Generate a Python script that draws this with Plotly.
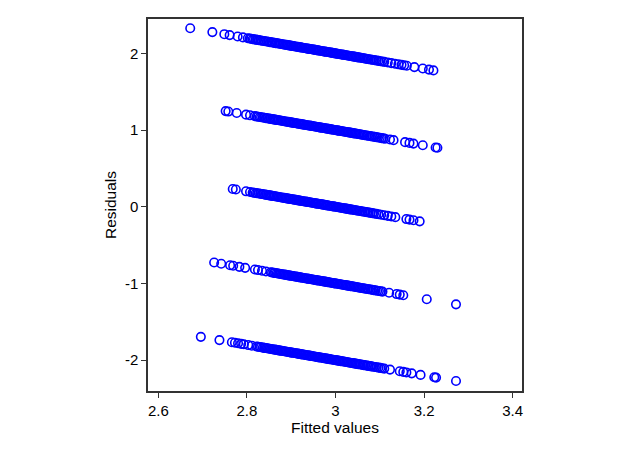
import plotly.graph_objects as go

# Observed response levels (ordinal outcome) and fitted values per level
levels = [5, 4, 3, 2, 1]

fitted_5 = [2.672, 2.722, 2.749, 2.761, 2.779, 2.791,
            2.802, 2.806, 2.809, 2.813, 2.816, 2.820, 2.823, 2.827, 2.831, 2.834,
            2.838, 2.841, 2.845, 2.848, 2.852, 2.855, 2.858, 2.862, 2.865, 2.868,
            2.871, 2.874, 2.877, 2.880, 2.883, 2.886, 2.889, 2.892, 2.895, 2.898,
            2.901, 2.904, 2.906, 2.909, 2.912, 2.915, 2.918, 2.921, 2.923, 2.926,
            2.929, 2.932, 2.935, 2.937, 2.940, 2.943, 2.946, 2.949, 2.951, 2.954,
            2.957, 2.960, 2.962, 2.965, 2.968, 2.971, 2.974, 2.976, 2.979, 2.982,
            2.985, 2.988, 2.990, 2.993, 2.996, 2.999, 3.002, 3.004, 3.007, 3.010,
            3.013, 3.016, 3.018, 3.021, 3.024, 3.027, 3.030, 3.033, 3.036, 3.039,
            3.042, 3.045, 3.048, 3.051, 3.054, 3.057, 3.060, 3.063, 3.066, 3.069,
            3.072, 3.075, 3.079, 3.082, 3.086, 3.089, 3.093, 3.097, 3.101, 3.105,
            3.110, 3.118, 3.126, 3.134, 3.142, 3.149, 3.155, 3.161,
            3.178, 3.197, 3.211, 3.221]

fitted_4 = [2.752, 2.758, 2.777, 2.798, 2.807,
            2.818, 2.822, 2.825, 2.829, 2.832, 2.836, 2.839, 2.843, 2.846, 2.850,
            2.853, 2.857, 2.860, 2.863, 2.866, 2.869, 2.872, 2.875, 2.878, 2.881,
            2.884, 2.887, 2.890, 2.893, 2.896, 2.899, 2.902, 2.905, 2.908, 2.911,
            2.913, 2.916, 2.919, 2.922, 2.925, 2.928, 2.930, 2.933, 2.936, 2.939,
            2.942, 2.945, 2.947, 2.950, 2.953, 2.956, 2.959, 2.962, 2.964, 2.967,
            2.970, 2.973, 2.976, 2.978, 2.981, 2.984, 2.987, 2.990, 2.992, 2.995,
            2.998, 3.001, 3.004, 3.006, 3.009, 3.012, 3.015, 3.018, 3.021, 3.024,
            3.027, 3.030, 3.033, 3.036, 3.039, 3.042, 3.045, 3.048, 3.051, 3.054,
            3.057, 3.060, 3.063, 3.066, 3.070, 3.073, 3.077, 3.080, 3.084, 3.088,
            3.092, 3.096, 3.100, 3.104, 3.108, 3.112,
            3.123, 3.131, 3.157, 3.167, 3.176, 3.197, 3.226, 3.230]

fitted_3 = [2.768, 2.775, 2.798, 2.807,
            2.813, 2.816, 2.820, 2.823, 2.827, 2.830, 2.834, 2.837, 2.841, 2.844,
            2.848, 2.851, 2.854, 2.857, 2.860, 2.863, 2.866, 2.869, 2.872, 2.875,
            2.878, 2.881, 2.884, 2.887, 2.890, 2.893, 2.896, 2.899, 2.902, 2.904,
            2.907, 2.910, 2.913, 2.916, 2.919, 2.921, 2.924, 2.927, 2.930, 2.933,
            2.936, 2.938, 2.941, 2.944, 2.947, 2.950, 2.953, 2.955, 2.958, 2.961,
            2.964, 2.967, 2.969, 2.972, 2.975, 2.978, 2.981, 2.983, 2.986, 2.989,
            2.992, 2.995, 2.997, 3.000, 3.003, 3.006, 3.009, 3.012, 3.015, 3.018,
            3.021, 3.024, 3.027, 3.030, 3.033, 3.036, 3.039, 3.042, 3.045, 3.048,
            3.051, 3.055, 3.058, 3.061, 3.065, 3.068, 3.072, 3.075, 3.079, 3.083,
            3.087, 3.092, 3.097, 3.103, 3.110, 3.118, 3.126, 3.135,
            3.160, 3.167, 3.176, 3.190]

fitted_2 = [2.726, 2.742, 2.762, 2.769, 2.783, 2.796, 2.818, 2.825, 2.834, 2.843,
            2.854, 2.857, 2.861, 2.864, 2.867, 2.870, 2.873, 2.876, 2.879, 2.882,
            2.885, 2.888, 2.891, 2.894, 2.897, 2.900, 2.903, 2.905, 2.908, 2.911,
            2.914, 2.917, 2.920, 2.922, 2.925, 2.928, 2.931, 2.934, 2.937, 2.939,
            2.942, 2.945, 2.948, 2.951, 2.954, 2.956, 2.959, 2.962, 2.965, 2.968,
            2.970, 2.973, 2.976, 2.979, 2.982, 2.984, 2.987, 2.990, 2.993, 2.996,
            2.998, 3.001, 3.004, 3.007, 3.010, 3.013, 3.016, 3.019, 3.022, 3.025,
            3.028, 3.031, 3.034, 3.037, 3.040, 3.043, 3.046, 3.049, 3.052, 3.055,
            3.058, 3.062, 3.065, 3.068, 3.072, 3.075, 3.079, 3.082, 3.086, 3.090,
            3.094, 3.098, 3.102, 3.106,
            3.121, 3.138, 3.145, 3.153, 3.206, 3.272]

fitted_1 = [2.696, 2.738, 2.766, 2.773, 2.780, 2.787, 2.793, 2.803, 2.811,
            2.822, 2.825, 2.829, 2.832, 2.836, 2.839, 2.842, 2.845, 2.848, 2.851,
            2.854, 2.857, 2.860, 2.863, 2.866, 2.869, 2.872, 2.875, 2.878, 2.881,
            2.884, 2.887, 2.890, 2.893, 2.896, 2.898, 2.901, 2.904, 2.907, 2.910,
            2.913, 2.915, 2.918, 2.921, 2.924, 2.927, 2.930, 2.932, 2.935, 2.938,
            2.941, 2.944, 2.946, 2.949, 2.952, 2.955, 2.958, 2.960, 2.963, 2.966,
            2.969, 2.972, 2.974, 2.977, 2.980, 2.983, 2.986, 2.988, 2.991, 2.994,
            2.997, 3.000, 3.003, 3.006, 3.009, 3.012, 3.015, 3.018, 3.021, 3.024,
            3.027, 3.030, 3.033, 3.036, 3.039, 3.042, 3.045, 3.048, 3.051, 3.054,
            3.057, 3.061, 3.064, 3.067, 3.071, 3.074, 3.078, 3.081, 3.085, 3.089,
            3.093, 3.097, 3.101, 3.105, 3.110,
            3.123, 3.145, 3.153, 3.160, 3.172, 3.192, 3.223, 3.227, 3.272]

fitted_by_level = [fitted_5, fitted_4, fitted_3, fitted_2, fitted_1]

x_ticks = [2.6, 2.8, 3.0, 3.2, 3.4]
x_tick_labels = ["2.6", "2.8", "3", "3.2", "3.4"]
y_ticks = [-2, -1, 0, 1, 2]
y_tick_labels = ["-2", "-1", "0", "1", "2"]

fitted_all = []
resid_all = []
for lvl, fv in zip(levels, fitted_by_level):
    for f in fv:
        fitted_all.append(f)
        resid_all.append(lvl - f)  # residual = observed - fitted

fig = go.Figure()
fig.add_trace(go.Scatter(
    x=fitted_all, y=resid_all, mode="markers",
    marker=dict(symbol="circle-open", size=8.5, color="#0000FF",
                line=dict(width=1.6, color="#0000FF")),
    showlegend=False, hoverinfo="x+y",
))

FONT = "Liberation Sans, Arial, sans-serif"
axis_common = dict(
    showgrid=False, zeroline=False, showline=True, mirror=True,
    linecolor="#333333", linewidth=1.5,
    ticks="outside", ticklen=5, tickwidth=1, tickcolor="#333333",
    tickfont=dict(family=FONT, size=15, color="#000000"),
    title_font=dict(family=FONT, size=15.5, color="#000000"),
)

# page body has an 8px default margin; figure sized to fit the window
fig.update_layout(
    width=614, height=445,
    margin=dict(l=140, r=100, t=9, b=62),
    plot_bgcolor="white", paper_bgcolor="white",
    xaxis=dict(range=[2.5767, 3.421], tickvals=x_ticks, ticktext=x_tick_labels,
               title=dict(text="Fitted values", standoff=0), **axis_common),
    yaxis=dict(range=[-2.402, 2.449], tickvals=y_ticks, ticktext=y_tick_labels,
               title=dict(text="Residuals", standoff=4), **axis_common),
)

fig.write_html("out.html")
